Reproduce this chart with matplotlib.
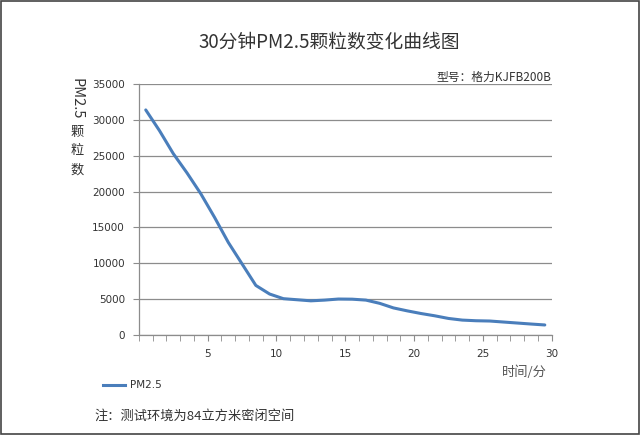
import matplotlib
matplotlib.use('Agg')
import matplotlib.pyplot as plt
from matplotlib.patches import Rectangle
import numpy as np

plt.rcParams['font.family'] = ['Noto Sans CJK SC', 'DejaVu Sans']

# 数据：每分钟 PM2.5 颗粒数
minutes = np.arange(1, 31)
pm25 = [31400, 28500, 25300, 22600, 19700, 16400, 12900, 9900, 6900, 5700,
        5050, 4900, 4750, 4850, 5000, 4980, 4850, 4400, 3760, 3350,
        2980, 2660, 2290, 2060, 1970, 1930, 1790, 1650, 1510, 1380]

y_ticks = np.arange(0, 35001, 5000)
x_ticks = [5, 10, 15, 20, 25, 30]

line_color = '#4a7ebb'
grid_color = '#8c8c8c'
text_color = '#333333'

fig = plt.figure(figsize=(6.4, 4.36), dpi=100)
fig.patch.set_facecolor('white')
ax = fig.add_axes([0.217, 0.232, 0.645, 0.575])

# 类别轴：数据点画在每一格的中间
ax.plot(minutes - 0.5, pm25, color=line_color, linewidth=2.2, solid_capstyle='round')

ax.set_xlim(0, 30)
ax.set_ylim(0, 35000)
ax.set_yticks(y_ticks)
ax.set_yticklabels([str(v) for v in y_ticks], fontsize=7.5, color=text_color,
                   family='DejaVu Sans')
ax.set_xticks(x_ticks)
ax.set_xticklabels([str(v) for v in x_ticks], fontsize=7.5, color=text_color,
                   family='DejaVu Sans')
ax.set_xticks(np.arange(0, 31), minor=True)
ax.tick_params(axis='x', which='both', direction='out', length=4, color=grid_color, pad=6)
ax.tick_params(axis='y', direction='out', length=4, color=grid_color, pad=6)

ax.grid(axis='y', color=grid_color, linewidth=0.9)
ax.set_axisbelow(True)
for s in ['top', 'right']:
    ax.spines[s].set_visible(False)
for s in ['left', 'bottom']:
    ax.spines[s].set_color(grid_color)
    ax.spines[s].set_linewidth(0.9)

# 标题和说明文字
fig.text(0.515, 0.905, '30分钟PM2.5颗粒数变化曲线图', ha='center', va='center',
         fontsize=13.5, color=text_color)
fig.text(0.862, 0.823, '型号：格力KJFB200B', ha='right', va='center',
         fontsize=8.5, color=text_color)

# 纵轴标题（竖排）
fig.text(0.12, 0.822, 'PM2.5', rotation=270, ha='center', va='top',
         fontsize=10.5, color=text_color)
for ch, yy in zip('颗粒数', [0.697, 0.655, 0.61]):
    fig.text(0.12, yy, ch, ha='center', va='center', fontsize=9.5, color=text_color)

fig.text(0.855, 0.147, '时间/分', ha='right', va='center', fontsize=9.5, color='#555555')

# 图例
fig.lines.append(plt.Line2D([0.161, 0.196], [0.118, 0.118], transform=fig.transFigure,
                            color=line_color, linewidth=2.2))
fig.text(0.203, 0.118, 'PM2.5', ha='left', va='center', fontsize=7.5,
         color=text_color, family='DejaVu Sans')

fig.text(0.148, 0.046, '注：测试环境为84立方米密闭空间', ha='left', va='center',
         fontsize=9.5, color=text_color)

# 外边框
fig.patches.append(Rectangle((0.001, 0.004), 0.997, 0.993, transform=fig.transFigure,
                             fill=False, edgecolor='#444444', linewidth=1.2))

fig.savefig('out.png', dpi=100, facecolor='white')
